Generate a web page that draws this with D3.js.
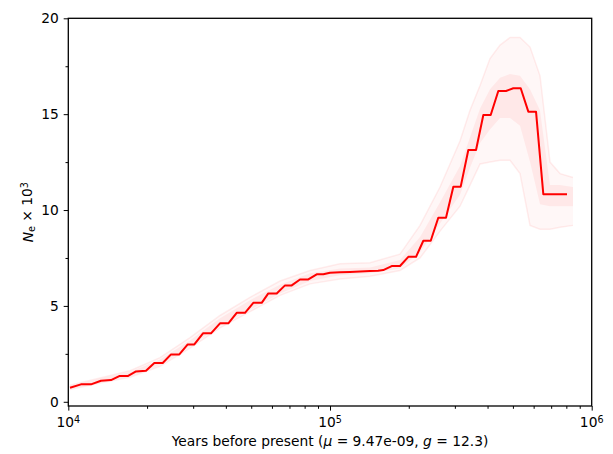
<!DOCTYPE html>
<html>
<head>
<meta charset="utf-8">
<script src="https://cdn.jsdelivr.net/npm/d3@7"></script>
<style>
body {margin: 0; background: white;}
text {font-family: "DejaVu Sans", sans-serif; fill: black;}
</style>
</head>
<body>
<svg id="chart"></svg>
<script>
//data: main estimate, vertices of the step curve (years, Ne in thousands)//
var years = [10150, 11180, 12210, 13330, 14560, 15660, 16870, 18140, 19810, 21320,
             22950, 24690, 26560, 28600, 30310, 32710, 35100, 37990, 40880, 44000,
             47340, 50920, 54830, 58110, 62570, 67310, 71400, 76810, 82620, 88960,
             94280, 100000, 109200, 119200, 130200, 142200, 152600, 159800, 172100, 185100,
             199200, 213200, 227300, 242600, 259300, 277500, 296000, 315800, 337700, 361400,
             385400, 411200, 439700, 470600, 501700, 535500, 572600, 612700, 653300, 804700];
var ne = [0.73, 0.91, 0.91, 1.10, 1.13, 1.34, 1.34, 1.58, 1.62, 2.02,
          2.02, 2.47, 2.47, 2.99, 2.99, 3.57, 3.57, 4.09, 4.09, 4.64,
          4.64, 5.16, 5.16, 5.65, 5.65, 6.07, 6.07, 6.38, 6.38, 6.65,
          6.65, 6.73, 6.75, 6.77, 6.79, 6.82, 6.84, 6.87, 7.08, 7.08,
          7.56, 7.56, 8.40, 8.40, 9.60, 9.60, 11.22, 11.22, 13.13, 13.13,
          14.96, 14.96, 16.21, 16.21, 16.35, 16.35, 15.13, 15.13, 10.83, 10.83];

//bootstrap spread//
var bootYears = [10150, 13215, 17210, 22410, 29180, 37990, 49460, 64410, 83870, 109200,
                 142200, 185100, 220800, 263300, 313900, 342800, 374400, 408700, 446400, 487300,
                 532200, 581200, 634600, 692900, 756700, 848300];
var bootLow  = [0.64, 0.98, 1.28, 1.85, 2.80, 3.85, 4.70, 5.55, 6.15, 6.40,
                6.55, 6.85, 7.50, 8.90, 10.2, 11.3, 12.4, 12.5, 12.6, 12.6,
                11.9, 9.2, 9.0, 9.0, 9.1, 9.2];
var bootHigh = [0.86, 1.24, 1.62, 2.30, 3.35, 4.50, 5.45, 6.30, 6.85, 7.20,
                7.25, 7.70, 9.20, 11.2, 13.6, 15.2, 16.5, 17.9, 18.6, 19.0,
                19.0, 18.5, 17.0, 12.5, 11.9, 11.7];
var coreLow  = [0.68, 1.02, 1.33, 1.92, 2.88, 3.95, 4.80, 5.65, 6.30, 6.60,
                6.70, 6.95, 7.80, 9.30, 10.8, 12.2, 13.5, 14.2, 14.8, 14.8,
                14.4, 12.5, 10.3, 10.2, 10.2, 10.2];
var coreHigh = [0.82, 1.20, 1.55, 2.20, 3.20, 4.35, 5.30, 6.10, 6.70, 6.95,
                7.00, 7.40, 8.60, 10.4, 12.3, 13.8, 15.3, 16.3, 16.9, 17.1,
                17.0, 16.3, 15.2, 11.3, 11.3, 11.2];

var xMajor = [1e4, 1e5, 1e6];
var xLabels = ["4", "5", "6"];
var yMajor = [0, 5, 10, 15, 20];
var yMinor = [2.5, 7.5, 12.5, 17.5];

//variables//
var screen = {width: 613, height: 454};
var margins = {top: 18.3, right: 21.3, bottom: 48, left: 68.3};
var width = screen.width - margins.left - margins.right;
var height = screen.height - margins.top - margins.bottom;
var fontSize = "13.8px";
var supSize = "9.6px";

var xScale = d3.scaleLog()
               .domain([1e4, 1e6])
               .range([0, width]);
var yScale = d3.scaleLinear()
               .domain([-0.22, 20])
               .range([height, 0]);

var svg = d3.select("#chart")
            .attr("width", screen.width)
            .attr("height", screen.height);

var plot = svg.append("g")
              .attr("transform", "translate(" + margins.left + "," + margins.top + ")");

//bootstrap haze//
var idx = d3.range(bootYears.length);
var band = function(lo, hi)
           {
            return d3.area()
                     .x(function(i) { return xScale(bootYears[i]); })
                     .y0(function(i) { return yScale(lo[i]); })
                     .y1(function(i) { return yScale(hi[i]); });
           };

plot.append("path")
    .datum(idx)
    .attr("d", band(bootLow, bootHigh))
    .style("fill", "#ff0000")
    .style("opacity", 0.03);

plot.append("path")
    .datum(idx)
    .attr("d", band(coreLow, coreHigh))
    .style("fill", "#ff0000")
    .style("opacity", 0.06);

[bootLow, bootHigh].forEach(function(edge)
    {
     plot.append("path")
         .datum(idx)
         .attr("d", d3.line()
                      .x(function(i) { return xScale(bootYears[i]); })
                      .y(function(i) { return yScale(edge[i]); }))
         .style("fill", "none")
         .style("stroke", "#ff0000")
         .style("stroke-width", 1.5)
         .style("opacity", 0.07);
    });

//main line//
plot.append("path")
    .datum(d3.range(years.length))
    .attr("d", d3.line()
                 .x(function(i) { return xScale(years[i]); })
                 .y(function(i) { return yScale(ne[i]); }))
    .style("fill", "none")
    .style("stroke", "#ff0000")
    .style("stroke-width", 2)
    .style("stroke-linejoin", "round");

//axes//
var xMinor = [];
[1e4, 1e5].forEach(function(base)
    {
     d3.range(2, 10).forEach(function(m) { xMinor.push(base * m); });
    });

var styleAxis = function(g)
                {
                 g.select(".domain").remove();
                 g.selectAll("line").style("stroke", "black").style("stroke-width", 1);
                };

plot.append("g")
    .attr("transform", "translate(0," + height + ")")
    .call(d3.axisBottom(xScale).tickValues(xMinor).tickSize(2.8).tickFormat(""))
    .call(styleAxis);

plot.append("g")
    .attr("transform", "translate(0," + height + ")")
    .call(d3.axisBottom(xScale).tickValues(xMajor).tickSize(4.6).tickFormat(""))
    .call(styleAxis);

plot.append("g")
    .call(d3.axisLeft(yScale).tickValues(yMinor).tickSize(2.8).tickFormat(""))
    .call(styleAxis);

plot.append("g")
    .call(d3.axisLeft(yScale).tickValues(yMajor).tickSize(4.6).tickFormat(""))
    .call(styleAxis);

//tick labels//
var xt = plot.selectAll(".xlab")
             .data(xMajor)
             .enter()
             .append("text")
             .attr("class", "xlab")
             .attr("x", function(d) { return xScale(d); })
             .attr("y", height + 21.5)
             .attr("text-anchor", "middle")
             .style("font-size", fontSize);
xt.append("tspan").text("10");
xt.append("tspan")
  .attr("dy", "-0.45em")
  .style("font-size", supSize)
  .text(function(d, i) { return xLabels[i]; });

plot.selectAll(".ylab")
    .data(yMajor)
    .enter()
    .append("text")
    .attr("class", "ylab")
    .attr("x", -9.5)
    .attr("y", function(d) { return yScale(d); })
    .attr("dy", "0.36em")
    .attr("text-anchor", "end")
    .style("font-size", fontSize)
    .text(function(d) { return d; });

//frame//
plot.append("rect")
    .attr("width", width)
    .attr("height", height)
    .style("fill", "none")
    .style("stroke", "black")
    .style("stroke-width", 1.3);

//axis titles//
var xTitle = svg.append("text")
                .attr("x", margins.left + width / 2)
                .attr("y", 446)
                .attr("text-anchor", "middle")
                .style("font-size", fontSize);
xTitle.append("tspan").text("Years before present (");
xTitle.append("tspan").style("font-style", "italic").text("\u03bc");
xTitle.append("tspan").text(" = 9.47e-09, ");
xTitle.append("tspan").style("font-style", "italic").text("g");
xTitle.append("tspan").text(" = 12.3)");

var yTitle = svg.append("text")
                .attr("transform", "translate(33," + (margins.top + height / 2) + ") rotate(-90)")
                .attr("text-anchor", "middle")
                .style("font-size", fontSize);
yTitle.append("tspan").style("font-style", "italic").text("N");
yTitle.append("tspan").attr("dy", "0.25em").style("font-size", supSize).text("e");
yTitle.append("tspan").attr("dy", "-0.25em").text(" \u00d7 10");
yTitle.append("tspan").attr("dy", "-0.45em").style("font-size", supSize).text("3");
</script>
</body>
</html>
